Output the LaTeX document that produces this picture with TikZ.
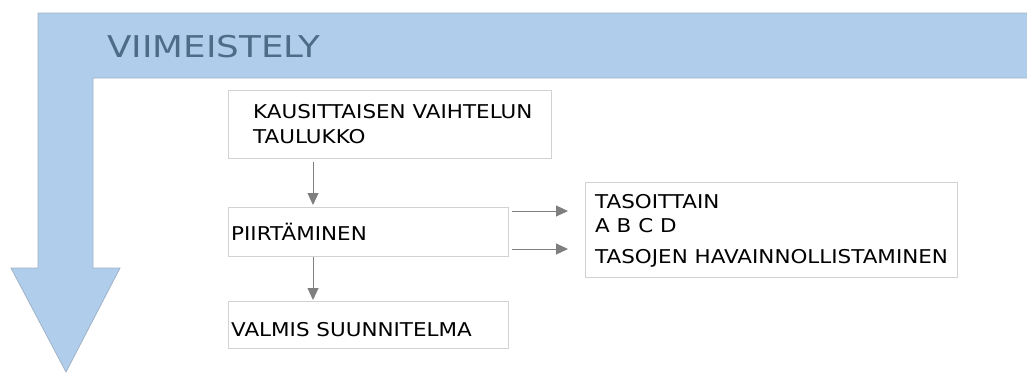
\documentclass[tikz,border=0pt]{standalone}
\usepackage{fontspec}
\setmainfont{DejaVu Sans}[FakeStretch=1.13]
\usetikzlibrary{arrows.meta,calc}
\definecolor{bandblue}{HTML}{B0CEEB}
\definecolor{bandedge}{HTML}{9FB2C6}
\definecolor{titlecol}{HTML}{4F6B88}
\definecolor{boxedge}{HTML}{D2D2D2}
\definecolor{conncol}{HTML}{7F7F7F}
\tikzset{
  stepbox/.style={draw=boxedge, line width=0.8pt, fill=white, inner sep=0pt, anchor=north west},
  boxtext/.style={anchor=base west, inner sep=0pt, font=\fontsize{19}{22}\selectfont, text=black},
  conn/.style={draw=conncol, line width=0.9pt, -{Triangle[length=12pt,width=11pt]}},
}
\begin{document}
\begin{tikzpicture}[x=1pt,y=-1pt]
\useasboundingbox (0,0) rectangle (1027,372);
% bent block arrow: top band running into a downward arrow on the left
\filldraw[fill=bandblue, draw=bandedge, line width=0.8pt]
  (38,13) -- (1030,13) -- (1030,78) -- (93,78) -- (93,268) -- (120,268)
  -- (66,372) -- (11,268) -- (38,268) -- cycle;
\node[anchor=base west, inner sep=0pt, text=titlecol, font=\fontsize{30}{34}\selectfont\addfontfeature{FakeStretch=1.19}] (title) at (107,57) {VIIMEISTELY};

% process boxes
\node[stepbox, minimum width=323pt, minimum height=68pt] (b1) at (228,90) {};
\node[boxtext] (t1a) at (253,118) {KAUSITTAISEN VAIHTELUN};
\node[boxtext] (t1b) at (253,143) {TAULUKKO};

\node[stepbox, minimum width=280pt, minimum height=49pt] (b2) at (228,207) {};
\node[boxtext] (t2) at (231,240) {PIIRTÄMINEN};

\node[stepbox, minimum width=280pt, minimum height=47pt] (b3) at (228,301) {};
\node[boxtext] (t3) at (231,336) {VALMIS SUUNNITELMA};

\node[stepbox, minimum width=372pt, minimum height=95pt] (b4) at (585,182) {};
\node[boxtext] (t4a) at (595,208) {TASOITTAIN};
\node[boxtext] (t4b) at (595,232) {A B C D};
\node[boxtext] (t4c) at (595,263) {TASOJEN HAVAINNOLLISTAMINEN};

% connectors
\coordinate (c1) at (313,0);
\draw[conn, shorten <=3pt, shorten >=2pt] (b1.south -| c1) -- (b2.north -| c1);
\draw[conn, shorten <=0pt, shorten >=1pt] (b2.south -| c1) -- (b3.north -| c1);
\coordinate (r1) at (0,211);
\coordinate (r2) at (0,249);
\draw[conn, shorten <=3pt, shorten >=17pt] (b2.east |- r1) -- (b4.west |- r1);
\draw[conn, shorten <=3pt, shorten >=17pt] (b2.east |- r2) -- (b4.west |- r2);
\end{tikzpicture}
\end{document}
